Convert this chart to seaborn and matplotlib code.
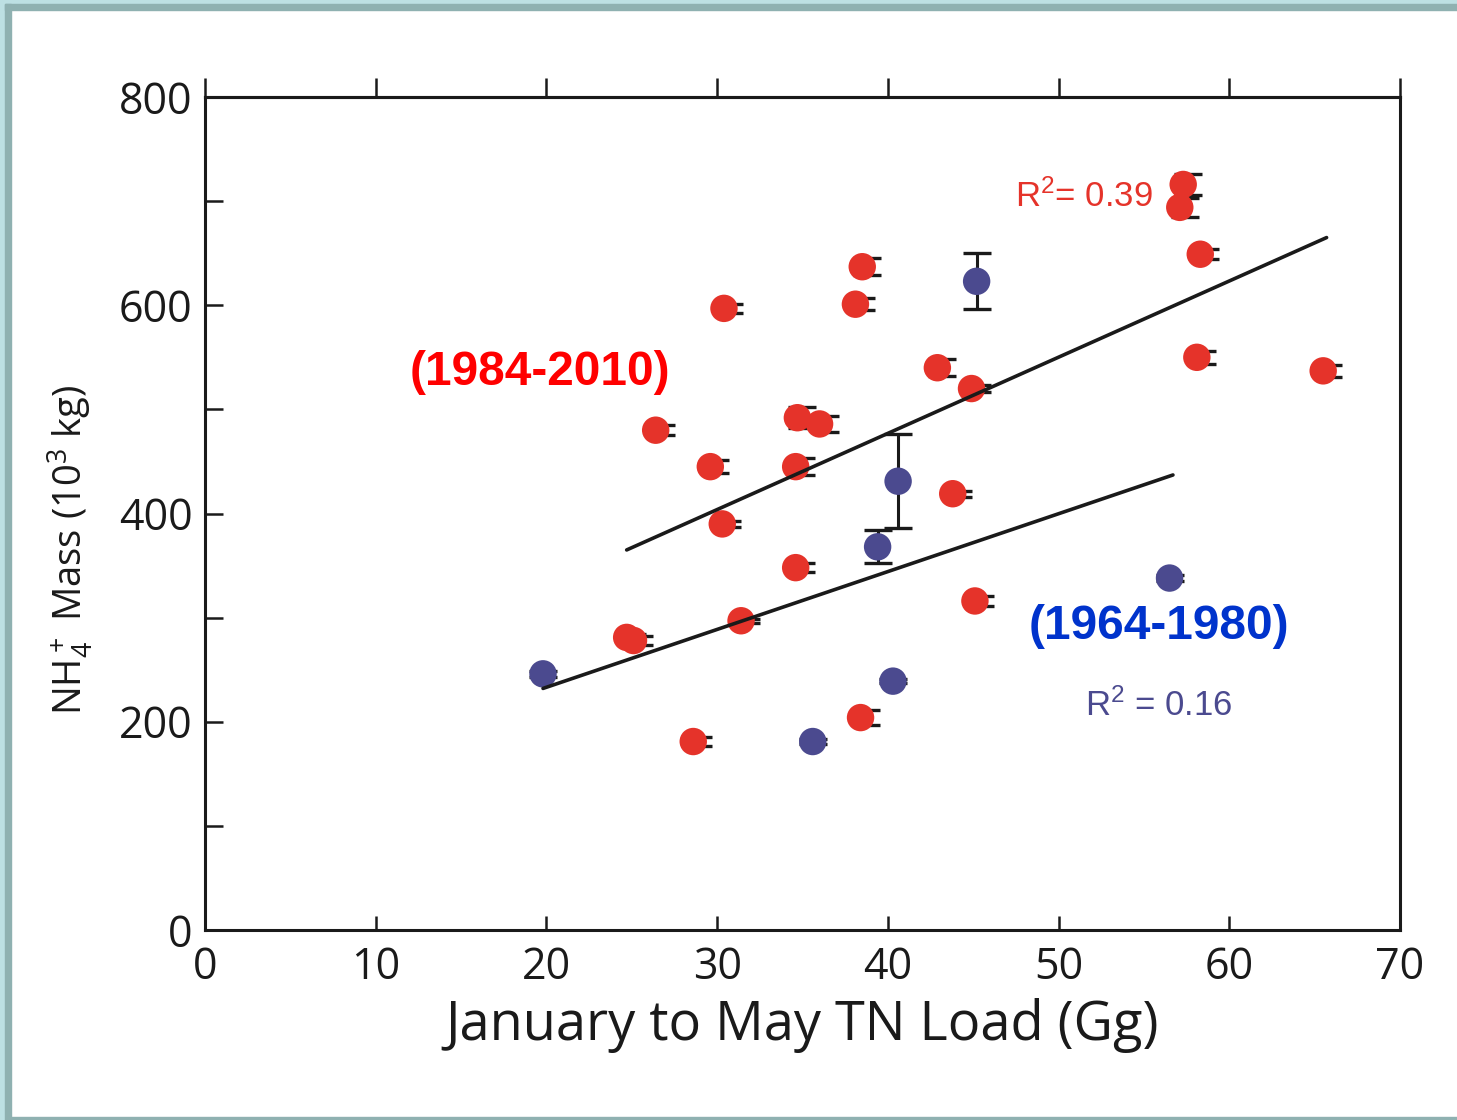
import matplotlib
matplotlib.use("Agg")
import matplotlib.pyplot as plt
import seaborn as sns
import pandas as pd
import numpy as np
from matplotlib.patches import Rectangle
from matplotlib.ticker import MultipleLocator, NullFormatter

# ---------------- data ----------------
red_x = [30.4, 38.5, 38.1, 57.3, 57.1, 58.3, 42.9, 44.9, 58.1, 65.5, 26.4, 34.7,
         36.0, 29.6, 34.6, 30.3, 43.8, 34.6, 45.1, 31.4, 24.7, 25.1, 38.4, 28.6]
red_y = [597, 637, 601, 716, 694, 649, 540, 520, 550, 537, 480, 492,
         486, 445, 445, 390, 419, 348, 316, 297, 281, 278, 204, 181]
red_err = [4, 8, 6, 10, 9, 5, 8, 3, 6, 6, 5, 10,
           8, 6, 8, 3, 3, 4, 5, 2, 3, 4, 7, 4]

blue_x = [19.8, 35.6, 40.3, 39.4, 40.6, 45.2, 56.5]
blue_y = [246, 181, 239, 368, 431, 623, 338]
blue_err = [3, 2, 2, 16, 45, 27, 3]

red_fit_x = [24.7, 65.7]
red_fit_y = [365, 665]
blue_fit_x = [19.8, 56.7]
blue_fit_y = [232, 437]

period_red = "1984-2010"
period_blue = "1964-1980"

RED = "#e5332a"
BLUE = "#4b4a8f"
INK = "#1a1a1a"

# ---------------- style ----------------
sns.set_theme(style="white")
plt.rcParams['font.family'] = ['Open Sans', 'DejaVu Sans']
plt.rcParams['mathtext.default'] = 'regular'

fig = plt.figure(figsize=(14.57, 11.2), dpi=100, facecolor='white')

# frame decoration of the slide
light, dark = "#bde0e3", "#8fb1b1"
W, H = 1457.0, 1120.0
fig.patches.append(Rectangle((0, 0), 5 / W, 1, transform=fig.transFigure, color=light, zorder=0))
fig.patches.append(Rectangle((0, 1 - 4 / H), 1, 4 / H, transform=fig.transFigure, color=light, zorder=0))
fig.patches.append(Rectangle((5 / W, 0), 6 / W, 1 - 4 / H, transform=fig.transFigure, color=dark, zorder=0))
fig.patches.append(Rectangle((5 / W, 1 - 10 / H), 1, 6 / H, transform=fig.transFigure, color=dark, zorder=0))
fig.patches.append(Rectangle((11 / W, 0), 1, 3 / H, transform=fig.transFigure, color=dark, zorder=0))

ax = fig.add_axes([205 / W, 190 / H, 1195 / W, 833 / H])
ax.set_facecolor('white')

df = pd.DataFrame({
    "x": red_x + blue_x,
    "y": red_y + blue_y,
    "period": [period_red] * len(red_x) + [period_blue] * len(blue_x),
})

# error bars (drawn beneath the markers)
ax.errorbar(np.array(red_x) + 0.3, red_y, yerr=red_err, fmt='none', ecolor=INK,
            elinewidth=2.2, capsize=10, capthick=2.4, zorder=2)
ax.errorbar(blue_x, blue_y, yerr=blue_err, fmt='none', ecolor=INK,
            elinewidth=2.2, capsize=10, capthick=2.4, zorder=2)

sns.scatterplot(data=df, x="x", y="y", hue="period",
                palette={period_red: RED, period_blue: BLUE},
                s=390, linewidth=0, legend=False, zorder=3, ax=ax)

sns.lineplot(x=red_fit_x, y=red_fit_y, color=INK, lw=2.6, ax=ax, zorder=4)
sns.lineplot(x=blue_fit_x, y=blue_fit_y, color=INK, lw=2.6, ax=ax, zorder=4)

# annotations
ax.text(19.6, 535, "(1984-2010)", color="#ff0000", fontsize=34.5, fontweight='bold',
        family='Liberation Sans', ha='center', va='center')
ax.text(55.9, 291, "(1964-1980)", color="#0033cc", fontsize=34.5, fontweight='bold',
        family='Liberation Sans', ha='center', va='center')
ax.text(47.45, 704, r"R$^2$= 0.39", color=RED, fontsize=25,
        family='Liberation Sans', ha='left', va='center')
ax.text(51.55, 216, r"R$^2$ = 0.16", color=BLUE, fontsize=25,
        family='Liberation Sans', ha='left', va='center')

# axes
ax.set_xlim(0, 70)
ax.set_ylim(0, 800)
ax.xaxis.set_major_locator(MultipleLocator(10))
ax.yaxis.set_major_locator(MultipleLocator(200))
ax.yaxis.set_minor_locator(MultipleLocator(100))
ax.yaxis.set_minor_formatter(NullFormatter())

ax.tick_params(axis='x', which='major', direction='in', length=10, width=1.8,
               bottom=True, top=False, labelsize=31, pad=11, colors=INK)
ax.tick_params(axis='y', which='both', direction='in', length=13, width=1.8,
               left=True, right=False, labelsize=31, pad=9, colors=INK)

for sp in ax.spines.values():
    sp.set_visible(True)
    sp.set_linewidth(2.2)
    sp.set_color(INK)

top = ax.secondary_xaxis('top')
top.set_xticks(np.arange(0, 71, 10))
top.xaxis.set_major_formatter(NullFormatter())
top.tick_params(axis='x', direction='out', length=14, width=1.8, colors=INK)
top.spines['top'].set_linewidth(2.2)
top.spines['top'].set_color(INK)

ax.set_xlabel("January to May TN Load (Gg)", fontsize=39, color=INK, labelpad=6)
ax.set_ylabel(r"NH$_4^+$ Mass (10$^3$ kg)", fontsize=27.5, color=INK)
ax.yaxis.set_label_coords(-0.092, 0.456)

fig.savefig("out.png", dpi=100, facecolor=fig.get_facecolor())
